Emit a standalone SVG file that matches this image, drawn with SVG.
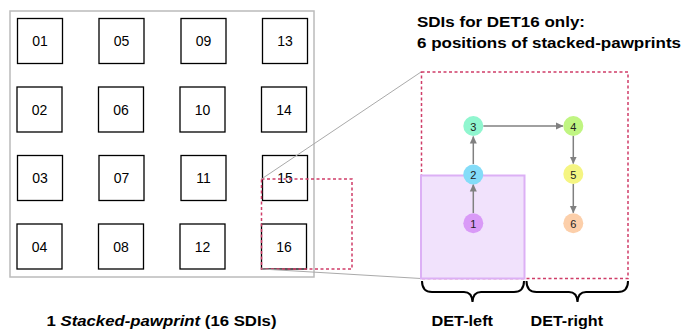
<svg xmlns="http://www.w3.org/2000/svg" width="690" height="329" viewBox="0 0 690 329">
<defs>
<style>
.sq{fill:#fff;stroke:#000;stroke-width:1.3}
.sqt{font-family:"Liberation Sans",Arial,sans-serif;font-size:14px;fill:#000;text-anchor:middle;dominant-baseline:central}
.red{fill:none;stroke:#cf3d68;stroke-width:1.5;stroke-dasharray:3 2.5}
.gl{stroke:#aaa;stroke-width:1;fill:none}
.cn{stroke:#808080;stroke-width:1.5;fill:none;marker-end:url(#ah)}
.ct{font-family:"Liberation Sans",Arial,sans-serif;font-size:11px;fill:#222;text-anchor:middle;dominant-baseline:central}
.bt{font-family:"Liberation Sans",Arial,sans-serif;font-size:15px;font-weight:bold;fill:#000}
.br{fill:none;stroke:#000;stroke-width:2}
</style>
<marker id="ah" markerWidth="8" markerHeight="8" refX="7" refY="4" orient="auto" markerUnits="userSpaceOnUse">
<path d="M0,0.5 L7.5,4 L0,7.5 z" fill="#808080"/>
</marker>
</defs>
<rect x="0" y="0" width="690" height="329" fill="#fff"/>
<rect x="10" y="11" width="304" height="266" fill="#fff" stroke="#bbb" stroke-width="1.5"/>
<g id="grid">
<g id="s01"><rect class="sq" x="17.5" y="18.5" width="45" height="45"/><text class="sqt" x="40" y="41">01</text></g>
<g id="s02"><rect class="sq" x="17" y="87" width="45" height="45"/><text class="sqt" x="39.5" y="109.5">02</text></g>
<g id="s03"><rect class="sq" x="17.5" y="155.5" width="45" height="45"/><text class="sqt" x="40" y="178">03</text></g>
<g id="s04"><rect class="sq" x="17" y="224" width="45" height="45"/><text class="sqt" x="39.5" y="246.5">04</text></g>
<g id="s05"><rect class="sq" x="99" y="18.5" width="45" height="45"/><text class="sqt" x="121.5" y="41">05</text></g>
<g id="s06"><rect class="sq" x="98.5" y="87" width="45" height="45"/><text class="sqt" x="121" y="109.5">06</text></g>
<g id="s07"><rect class="sq" x="99" y="155.5" width="45" height="45"/><text class="sqt" x="121.5" y="178">07</text></g>
<g id="s08"><rect class="sq" x="98.5" y="224" width="45" height="45"/><text class="sqt" x="121" y="246.5">08</text></g>
<g id="s09"><rect class="sq" x="181" y="18.5" width="45" height="45"/><text class="sqt" x="203.5" y="41">09</text></g>
<g id="s10"><rect class="sq" x="180" y="87" width="45" height="45"/><text class="sqt" x="202.5" y="109.5">10</text></g>
<g id="s11"><rect class="sq" x="181" y="155.5" width="45" height="45"/><text class="sqt" x="203.5" y="178">11</text></g>
<g id="s12"><rect class="sq" x="180" y="224" width="45" height="45"/><text class="sqt" x="202.5" y="246.5">12</text></g>
<g id="s13"><rect class="sq" x="262.5" y="18.5" width="45" height="45"/><text class="sqt" x="285" y="41">13</text></g>
<g id="s14"><rect class="sq" x="261.5" y="87" width="45" height="45"/><text class="sqt" x="284" y="109.5">14</text></g>
<g id="s15"><rect class="sq" x="262.5" y="155.5" width="45" height="45"/><text class="sqt" x="285" y="178">15</text></g>
<g id="s16"><rect class="sq" x="261.5" y="224" width="45" height="45"/><text class="sqt" x="284" y="246.5">16</text></g>
</g>
<g id="zoomframe">
<rect class="red" x="261.5" y="179" width="90.5" height="90"/>
<line class="gl" x1="261.5" y1="179" x2="421" y2="72"/>
<line class="gl" x1="261.5" y1="269" x2="421" y2="278.5"/>
</g>
<g id="detfield">
<rect x="421.5" y="72" width="206.5" height="206.5" fill="none" stroke="#cf3d68" stroke-width="1.5" stroke-dasharray="3 2.5"/>
<rect x="421" y="175.5" width="103.5" height="103" fill="#f1e2fc" stroke="#dcb0f5" stroke-width="2"/>
</g>
<g id="connectors">
<line class="cn" x1="473.3" y1="213" x2="473.3" y2="184.5"/>
<line class="cn" x1="473.3" y1="164" x2="473.3" y2="136.5"/>
<line class="cn" x1="483.3" y1="126" x2="563" y2="126"/>
<line class="cn" x1="573.3" y1="136" x2="573.3" y2="163.5"/>
<line class="cn" x1="573.3" y1="184" x2="573.3" y2="212.8"/>
</g>
<g id="p1"><circle cx="473.3" cy="223.3" r="10" fill="#d99af7"/><text class="ct" x="473.3" y="223.8">1</text></g>
<g id="p2"><circle cx="473.3" cy="174.5" r="10" fill="#84dcf8"/><text class="ct" x="473.3" y="175">2</text></g>
<g id="p3"><circle cx="473.3" cy="126" r="10" fill="#90f6cf"/><text class="ct" x="473.3" y="126.5">3</text></g>
<g id="p4"><circle cx="573.3" cy="126" r="10" fill="#c0f582"/><text class="ct" x="573.3" y="126.5">4</text></g>
<g id="p5"><circle cx="573.3" cy="174" r="10" fill="#f5f582"/><text class="ct" x="573.3" y="174.5">5</text></g>
<g id="p6"><circle cx="573.3" cy="223.3" r="10" fill="#fccfaa"/><text class="ct" x="573.3" y="223.8">6</text></g>
<g id="braces">
<path class="br" d="M422,281 Q422,292 432,292 L464,292 Q472,292 472.5,302 Q473,292 481,292 L514,292 Q524,292 524,281"/>
<path class="br" d="M526.5,281 Q526.5,292 536.5,292 L569,292 Q577,292 577.5,302 Q578,292 586,292 L618,292 Q628,292 628,281"/>
</g>
<g id="labels">
<text class="bt" x="417" y="26.5" textLength="168" lengthAdjust="spacingAndGlyphs">SDIs for DET16 only:</text>
<text class="bt" x="417" y="48" textLength="264" lengthAdjust="spacingAndGlyphs">6 positions of stacked-pawprints</text>
<text class="bt" x="46.5" y="326" textLength="230" lengthAdjust="spacingAndGlyphs">1 <tspan font-style="italic">Stacked-pawprint</tspan> (16 SDIs)</text>
<text class="bt" x="431.5" y="326" textLength="61.5" lengthAdjust="spacingAndGlyphs">DET-left</text>
<text class="bt" x="530.5" y="326" textLength="72.5" lengthAdjust="spacingAndGlyphs">DET-right</text>
</g>
</svg>
